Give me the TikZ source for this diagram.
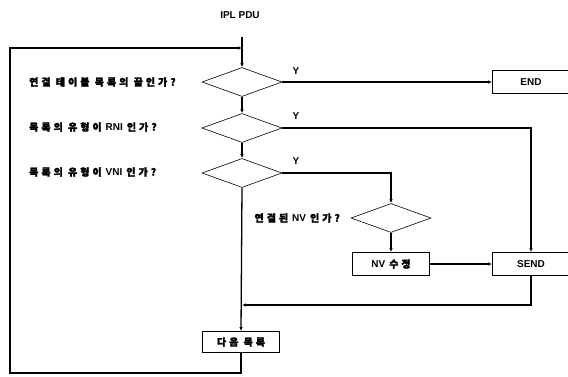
\documentclass[tikz,border=0pt]{standalone}
\usepackage{fontspec}
\setmainfont{Liberation Sans}
\newfontfamily\kr{Noto Sans CJK KR}[LetterSpace=30, FakeBold=2]
\usetikzlibrary{shapes.geometric,arrows.meta}
\tikzset{
  lbl/.style={font=\bfseries\fontsize{10}{12}\selectfont, inner sep=0pt},
  dia/.style={draw, diamond, minimum width=80pt, minimum height=29pt, inner sep=0pt, line width=0.6pt},
  box/.style={draw, rectangle, minimum width=77pt, minimum height=23pt, inner sep=0pt, line width=0.9pt, font=\bfseries\fontsize{10}{12}\selectfont},
  con/.style={line width=1.3pt},
  arr/.style={con, -{Latex[length=4pt,width=3.5pt]}},
}
\newcommand\krs[1]{{\kr\fontsize{10}{12}\selectfont #1}}
\newcommand\gap{\hspace{4pt}}
\begin{document}
\begin{tikzpicture}[x=1pt,y=-1pt]
\useasboundingbox (0,0) rectangle (568,376);
\clip (0,0) rectangle (568,376);
\node[lbl] (ipl) at (240,15) {IPL PDU};
\node[dia] (d1) at (242,82) {};
\node[dia] (d2) at (242,128) {};
\node[dia] (d3) at (242,173) {};
\node[dia] (d4) at (391,218) {};
\node[lbl, anchor=west] (l1) at (29,82) {\krs{연결 테이블 목록의 끝인가?}};
\node[lbl, anchor=west] (l2) at (29,127) {\krs{목록의 유형이}\gap RNI\gap\krs{인가?}};
\node[lbl, anchor=west] (l3) at (29,172) {\krs{목록의 유형이}\gap VNI\gap\krs{인가?}};
\node[lbl, anchor=east] (l4) at (340,218) {\krs{연결된}\gap NV\gap\krs{인가?}};
\node[box] (end) at (531,82) {END};
\node[box] (send) at (531,264) {SEND};
\node[box] (nv) at (391,264) {NV\gap\krs{수정}};
\node[box, minimum height=21pt] (next) at (241,342) {\krs{다음 목록}};
\node[lbl] (y1) at (296,71) {Y};
\node[lbl] (y2) at (296,116) {Y};
\node[lbl] (y3) at (296,161) {Y};
\coordinate (top) at (242,37);
\coordinate (j) at (242,48);
\coordinate (m) at (242,305);
\coordinate (lb) at (10,373);
\coordinate (lt) at (10,48);
\draw[arr] (top) -- (d1.north);
\draw[arr] (d1.south) -- (d2.north);
\draw[arr] (d2.south) -- (d3.north);
\draw[arr] (d3.south) -- (next.north);
\draw[arr] (d1.east) -- (end.west);
\draw[arr] (d2.east) -| (send.north);
\draw[arr] (d3.east) -| (d4.north);
\draw[arr] (d4.south) -- (nv.north);
\draw[arr] (nv.east) -- (send.west);
\draw[arr] (send.south) |- (m);
\draw[arr] (next.south) |- (lb) -- (lt) -- (j);
\end{tikzpicture}
\end{document}
